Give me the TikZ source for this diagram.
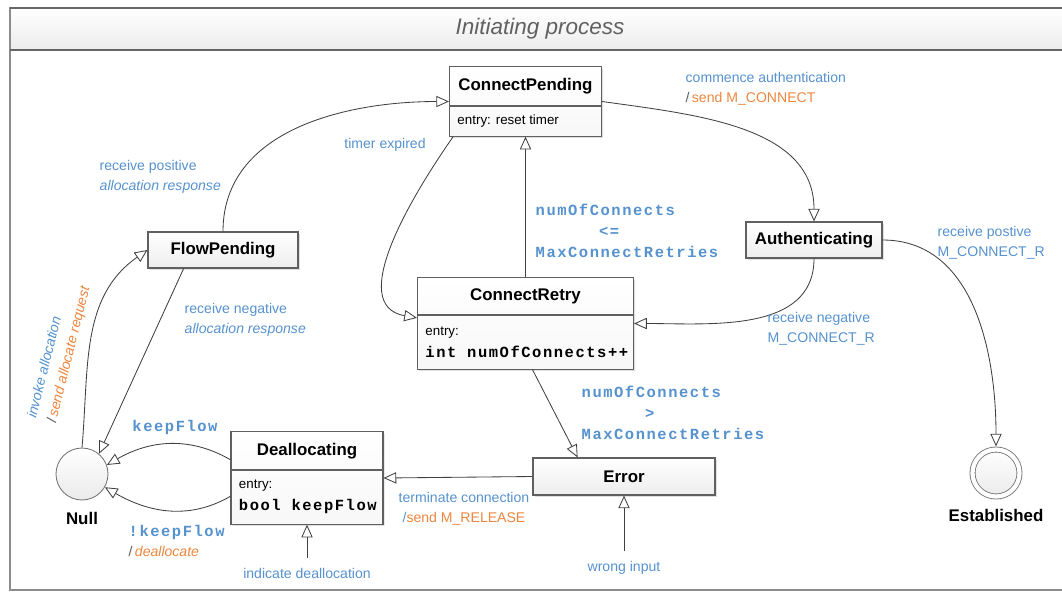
\documentclass[tikz,border=0pt]{standalone}
\usepackage{fontspec}
\setmainfont{Liberation Sans}
\newfontfamily\codefont{Liberation Mono}[LetterSpace=10]
\usetikzlibrary{arrows.meta}
\usetikzlibrary{shapes.multipart}
\usetikzlibrary{shadows}
\definecolor{lblue}{RGB}{86,146,206}
\definecolor{lorange}{RGB}{236,134,62}
\definecolor{lslash}{RGB}{90,90,90}
\definecolor{boxline}{RGB}{96,96,96}
\newcommand{\labfont}{\fontsize{10}{14.5}\selectfont}
\newcommand{\codfont}{\fontsize{11}{15}\selectfont\codefont\bfseries}
\newcommand{\stfont}{\fontsize{12}{14}\selectfont\bfseries}
\newcommand{\send}[1]{\textcolor{lslash}{/}\,\textcolor{lorange}{#1}}
\newcommand{\statehead}[3]{\parbox[c][#2][c]{#1}{\centering\stfont #3}}
\newcommand{\statebody}[3]{\parbox[c][#2][c]{#1}{\raggedright\leftskip=0.2cm\fontsize{9.5}{15.5}\selectfont #3}}

\tikzset{
  statebox/.style={draw=boxline, line width=0.8pt, top color=white, bottom color=gray!14,
    drop shadow={shadow xshift=1.2pt, shadow yshift=-1.2pt, opacity=0.25},
    font=\stfont, inner sep=0pt},
  splitbox/.style={draw=boxline, line width=0.8pt, rectangle split, rectangle split parts=2,
    top color=white, bottom color=gray!6, inner sep=0pt,
    drop shadow={shadow xshift=1.2pt, shadow yshift=-1.2pt, opacity=0.25}},
  pseudo/.style={circle, draw=black!55, line width=0.6pt, minimum size=1.3cm,
    top color=white, bottom color=gray!16, inner sep=0pt},
  trans/.style={draw=black!75, line width=0.6pt, -{Triangle[open, length=9pt, width=8pt]}},
  lbl/.style={text=lblue, font=\labfont, align=left, inner sep=1pt},
  code/.style={text=lblue, font=\codfont, align=left, inner sep=1pt},
}

\begin{document}
\begin{tikzpicture}[x=0.025cm, y=-0.025cm]
  \useasboundingbox (0,0) rectangle (1062,593);
  \clip (0,0) rectangle (1062,593);

  % frame and title bar
  \shade[top color=white, bottom color=gray!15] (10,8) rectangle (1080,50);
  \draw[black!45, line width=1.2pt] (10,8) rectangle (1080,590);
  \draw[black!60, line width=1pt] (10,8) -- (1080,8) (10,50) -- (1080,50);
  \node[font=\fontsize{16}{18}\selectfont\itshape, text=black!62] (title) at (540,29) {Initiating process};

  % states
  \node[splitbox] (cp) at (525.5,101.5) {\statehead{3.8cm}{0.95cm}{ConnectPending}\nodepart{two}\statebody{3.8cm}{0.725cm}{entry: reset timer}};
  \node[splitbox] (cr) at (525.5,323.5) {\statehead{5.4cm}{0.9cm}{ConnectRetry}\nodepart{two}\statebody{5.4cm}{1.325cm}{entry:\\{\codfont int numOfConnects++}}};
  \node[splitbox] (dl) at (307,478) {\statehead{3.8cm}{0.925cm}{Deallocating}\nodepart{two}\statebody{3.8cm}{1.325cm}{entry:\\{\codfont bool keepFlow}}};
  \node[statebox, minimum width=3.75cm, minimum height=0.9cm] (fp) at (223,250) {FlowPending};
  \node[statebox, minimum width=3.4cm, minimum height=0.9cm] (auth) at (814,240) {Authenticating};
  \node[statebox, minimum width=4.55cm, minimum height=0.925cm] (err) at (624,476.5) {Error};
  \node[pseudo, label={[font=\stfont, label distance=5pt]below:Null}] (null) at (82,474) {};
  \node[pseudo, double=white, double distance=3pt, minimum size=1.175cm, outer sep=2.2pt,
    label={[font=\stfont, label distance=3pt]below:Established}] (est) at (996,473) {};

  % triggers
  \node[lbl, inner ysep=7pt] (ind) at (307,573) {indicate deallocation};
  \node[lbl, inner ysep=7pt] (wrong) at (624,568) {wrong input};

  % transitions
  \draw[trans] (null.north) to[out=85, in=215] (fp.west);
  \draw[trans] ([xshift=-28pt]fp.south) -- (null.50);
  \draw[trans] (fp.north) to[out=90, in=180] (cp.west);
  \draw[trans] (cp.east) to[out=-8, in=90] (auth.north);
  \draw[trans] ([xshift=3pt]cp.south west) to[out=-125, in=170] ([yshift=4pt]cr.west);
  \draw[trans] (cr.north) -- (cp.south);
  \draw[trans] (auth.south) to[out=-90, in=0] (cr.east);
  \draw[trans] (auth.east) to[out=0, in=90] (est.north);
  \draw[trans] ([xshift=5pt]cr.south) -- ([xshift=-33pt]err.north);
  \draw[trans] (err.west) -- (dl.east);
  \draw[trans] ([yshift=13pt]dl.west) to[out=150, in=30] (null.20);
  \draw[trans] ([yshift=-13pt]dl.west) to[out=-150, in=-30] (null.-30);
  \draw[trans] (ind) -- (dl.south);
  \draw[trans] (wrong) -- (err.south);

  % transition labels
  \node[lbl, rotate=76, anchor=west] (invoke) at (42,422) {\textit{invoke allocation}\\\send{\textit{send allocate request}}};
  \node[lbl, anchor=west] (pos) at (98,177) {receive positive\\\textit{allocation response}};
  \node[lbl, anchor=west] (neg) at (183,320) {receive negative\\\textit{allocation response}};
  \node[lbl] (timer) at (385,145) {timer expired};
  \node[lbl, anchor=west] (commence) at (684,89) {commence authentication\\\send{send M\_CONNECT}};
  \node[code, anchor=west] (leq) at (534,231) {numOfConnects\\\phantom{numOfC}<=\\MaxConnectRetries};
  \node[lbl, anchor=west] (negr) at (766,329) {receive negative\\M\_CONNECT\_R};
  \node[lbl, anchor=west] (posr) at (936,243) {receive postive\\M\_CONNECT\_R};
  \node[code, anchor=west] (gt) at (580,413) {numOfConnects\\\phantom{numOfC}>\\MaxConnectRetries};
  \node[lbl, align=center] (term) at (464,509) {terminate connection\\/\textcolor{lorange}{send M\_RELEASE}};
  \node[code] (kf) at (175,427) {keepFlow};
  \node[lbl, anchor=west] (nkf) at (127,541) {{\codfont !keepFlow}\\\send{\textit{deallocate}}};
\end{tikzpicture}
\end{document}
